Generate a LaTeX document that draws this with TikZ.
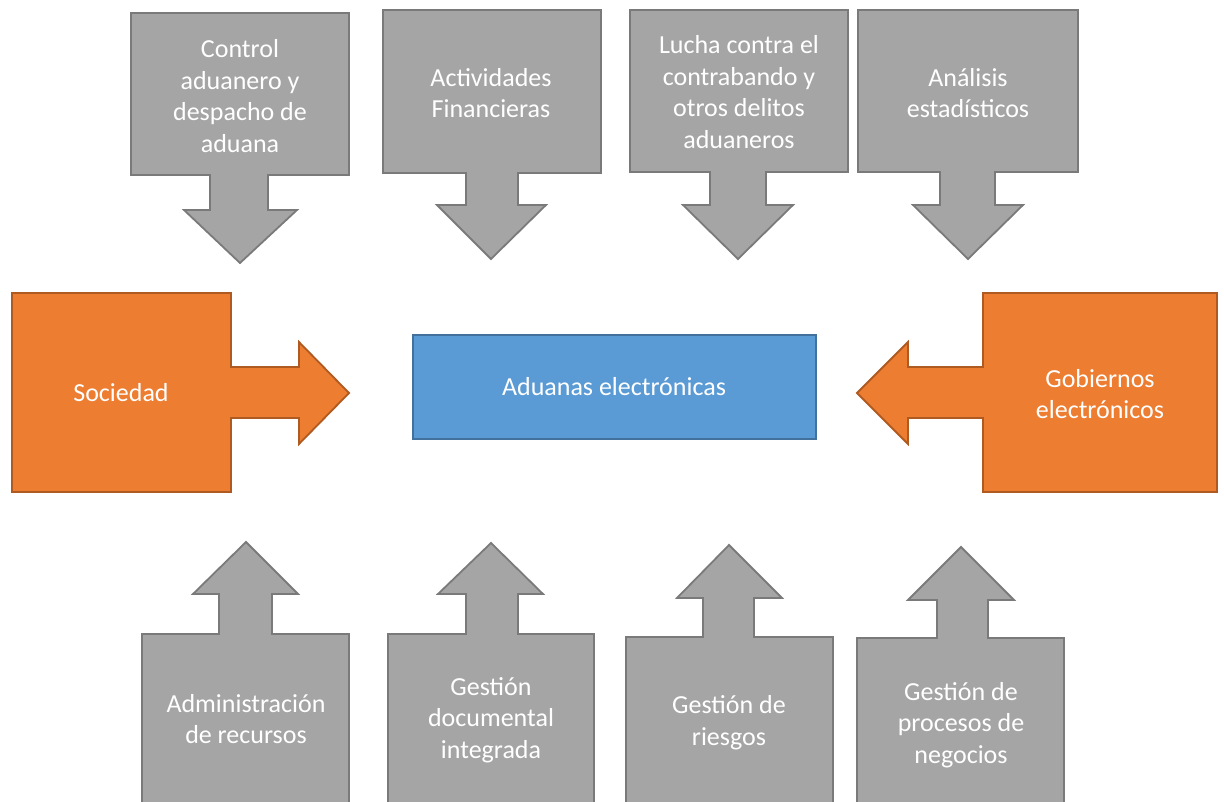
\documentclass[tikz,border=0pt]{standalone}
\usepackage{fontspec}
\setmainfont{Carlito}
\definecolor{gfill}{HTML}{A5A5A5}
\definecolor{gline}{HTML}{7A7A7A}
\definecolor{ofill}{HTML}{ED7D31}
\definecolor{oline}{HTML}{AE5A21}
\definecolor{bfill}{HTML}{5B9BD5}
\definecolor{bline}{HTML}{41719C}
\begin{document}
\begin{tikzpicture}[x=1pt,y=-1pt,
  grayshape/.style={fill=gfill,draw=gline,line width=1.8pt,line join=miter},
  orangeshape/.style={fill=ofill,draw=oline,line width=1.8pt,line join=miter},
  blueshape/.style={fill=bfill,draw=bline,line width=1.8pt},
  txt/.style={text=white,align=center,inner sep=0pt,font=\fontsize{26}{31.7}\selectfont}]
\useasboundingbox (0,0) rectangle (1224,802);
\clip (0,0) rectangle (1224,802);
% top callouts (down arrows)
\path[grayshape] (131,13)--(349,13)--(349,175)--(268,175)--(268,210)--(297,210)--(240,263)--(184,210)--(210,210)--(210,175)--(131,175)--cycle;
\path[grayshape] (383,10)--(601,10)--(601,173)--(518,173)--(518,205)--(546,205)--(491,259)--(437,205)--(466,205)--(466,173)--(383,173)--cycle;
\path[grayshape] (630,10)--(848,10)--(848,172)--(766,172)--(766,205)--(793,205)--(738,259)--(683,205)--(710,205)--(710,172)--(630,172)--cycle;
\path[grayshape] (858,10)--(1078,10)--(1078,172)--(995,172)--(995,205)--(1023,205)--(968,259)--(913,205)--(940,205)--(940,172)--(858,172)--cycle;
% side callouts
\path[orangeshape] (12,293)--(231,293)--(231,367)--(299,367)--(299,342)--(349,393)--(299,444)--(299,418)--(231,418)--(231,492)--(12,492)--cycle;
\path[orangeshape] (1217,293)--(983,293)--(983,367)--(908,367)--(908,342)--(857,393)--(908,444)--(908,418)--(983,418)--(983,492)--(1217,492)--cycle;
% centre
\path[blueshape] (413,335) rectangle (816,439);
% bottom callouts (up arrows)
\path[grayshape] (142,812)--(142,634)--(219,634)--(219,594)--(193,594)--(246,542)--(298,594)--(272,594)--(272,634)--(349,634)--(349,812)--cycle;
\path[grayshape] (388,812)--(388,634)--(466,634)--(466,594)--(438,594)--(491,543)--(543,594)--(518,594)--(518,634)--(594,634)--(594,812)--cycle;
\path[grayshape] (626,812)--(626,637)--(703,637)--(703,598)--(677,598)--(729,545)--(782,598)--(754,598)--(754,637)--(833,637)--(833,812)--cycle;
\path[grayshape] (857,812)--(857,638)--(937,638)--(937,600)--(908,600)--(961,547)--(1014,600)--(988,600)--(988,638)--(1064,638)--(1064,812)--cycle;
% texts
\node[txt] (t1) at (240,96) {Control\\aduanero y\\despacho de\\aduana};
\node[txt] (t2) at (491,93) {Actividades\\Financieras};
\node[txt] (t3) at (739,92) {Lucha contra el\\contrabando y\\otros delitos\\aduaneros};
\node[txt] (t4) at (968,93) {Análisis\\estadísticos};
\node[txt] (soc) at (121,393) {Sociedad};
\node[txt] (gob) at (1100,394) {Gobiernos\\electrónicos};
\node[txt] (adu) at (614,387) {Aduanas electrónicas};
\node[txt] (b1) at (246,719) {Administración\\de recursos};
\node[txt] (b2) at (491,720) {Gestión\\documental\\integrada};
\node[txt] (b3) at (729,723) {Gestión de\\riesgos};
\node[txt] (b4) at (961,725) {Gestión de\\procesos de\\negocios};
\end{tikzpicture}
\end{document}
